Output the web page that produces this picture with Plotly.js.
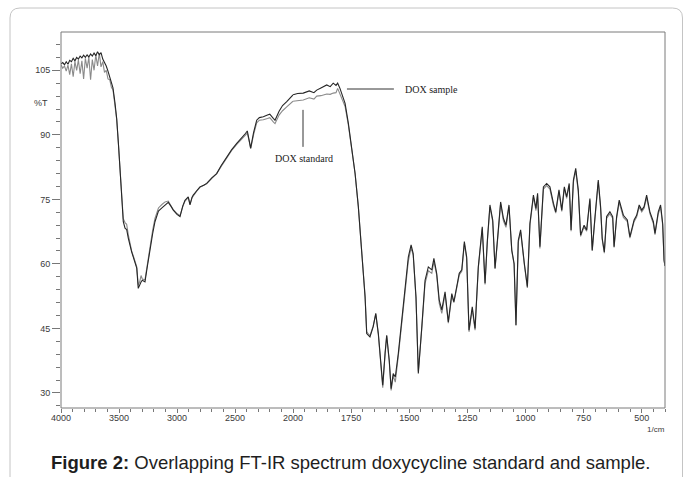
<!DOCTYPE html>
<html>
<head>
<meta charset="utf-8">
<script src="https://cdn.plot.ly/plotly-3.0.1.min.js"></script>
<style>
  html, body { margin: 0; padding: 0; background: #ffffff; }
  #chart { width: 683px; height: 477px; }
</style>
</head>
<body>
<div id="chart"></div>
<script>
// Wavenumbers (1/cm), descending
const wavenumbers = [
  4000, 3985, 3970, 3955, 3940, 3925, 3910, 3895, 3880, 3865, 3850, 3835, 3820, 3805, 3790, 3775, 3760, 3745, 3730, 3715,
  3700, 3685, 3670, 3655, 3640, 3625, 3610, 3595, 3580, 3565, 3552, 3535, 3520, 3505, 3491, 3477, 3463, 3448, 3434, 3420,
  3405, 3391, 3370, 3347, 3334, 3320, 3310, 3299, 3276, 3255, 3233, 3210, 3190, 3160, 3130, 3103, 3075, 3050, 3032, 3000,
  2974, 2950, 2931, 2903, 2888, 2870, 2860, 2830, 2802, 2770, 2744, 2700, 2658, 2620, 2572, 2530, 2485, 2440, 2410, 2394,
  2380, 2365, 2340, 2313, 2290, 2256, 2220, 2200, 2170, 2155, 2120, 2090, 2054, 2020, 2000,
  1980, 1956, 1930, 1910, 1898, 1880, 1855, 1840, 1827, 1815, 1808, 1798, 1785, 1776, 1762, 1748, 1733, 1719, 1705, 1690,
  1683, 1669, 1655, 1644, 1633, 1619, 1614, 1604, 1597, 1586, 1578, 1569, 1560, 1547, 1526, 1504, 1492, 1483, 1471, 1461,
  1446, 1432, 1418, 1403, 1394, 1382, 1371, 1360, 1346, 1332, 1317, 1308, 1285, 1274, 1263, 1253, 1243, 1229, 1217, 1203,
  1186, 1174, 1164, 1153, 1141, 1131, 1117, 1107, 1095, 1084, 1071, 1059, 1049, 1041, 1031, 1021, 1005, 992, 981, 966,
  955, 948, 938, 923, 909, 895, 880, 870, 856, 844, 833, 823, 812, 804, 794, 784, 773, 763, 748, 737,
  723, 713, 701, 687, 677, 670, 661, 651, 637, 625, 619, 608, 597, 579, 562, 551, 533, 522, 511, 500,
  490, 479, 465, 450, 443, 429, 419, 410, 404, 400
];

// %T, DOX sample
const sampleT = [
  106.5, 106.8, 106.3, 107.0, 106.4, 107.3, 107.0, 107.8, 107.2, 108.0, 107.6, 108.3, 107.9, 108.5, 108.0, 108.6, 108.1, 108.8, 108.3, 109.0,
  108.4, 109.3, 108.6, 109.1, 107.6, 106.8, 106.0, 104.8, 103.5, 102.2, 100.9, 97.5, 93.8, 88.0, 82.3, 76.0, 69.8, 68.3, 68.0, 66.0,
  64.2, 62.8, 61.0, 59.0, 54.3, 55.5, 55.8, 56.2, 55.8, 59.5, 63.7, 67.0, 69.8, 72.3, 73.0, 73.7, 74.3, 73.3, 72.5, 71.5,
  71.0, 73.5, 74.8, 75.6, 73.7, 75.5, 76.0, 77.0, 77.9, 78.3, 78.7, 80.0, 81.0, 82.8, 84.9, 86.5, 88.0, 89.3, 90.3, 90.9,
  89.0, 86.9, 90.5, 93.4, 94.0, 94.2, 94.6, 94.8, 93.8, 93.4, 95.5, 96.8, 97.7, 98.8, 99.3,
  99.6, 99.7, 100.2, 99.8, 100.4, 100.9, 101.6, 101.2, 102.0, 101.5, 102.0, 100.8, 99.0, 97.3, 92.7, 86.5, 81.0, 73.3, 64.0, 52.3,
  43.8, 43.0, 45.4, 48.5, 43.8, 34.5, 31.8, 39.2, 43.4, 37.6, 31.0, 34.5, 33.7, 39.2, 50.0, 61.6, 64.4, 62.4, 52.3, 34.5,
  45.4, 56.2, 59.3, 58.6, 61.3, 57.8, 51.6, 49.3, 53.5, 46.5, 53.1, 51.2, 57.8, 58.6, 65.2, 61.6, 44.6, 50.0, 45.0, 59.3,
  68.6, 55.5, 65.5, 73.7, 70.2, 59.0, 67.9, 74.4, 70.6, 69.0, 73.7, 63.2, 60.1, 45.8, 65.5, 67.9, 60.1, 54.7, 69.4, 76.0,
  72.9, 76.4, 64.0, 77.9, 78.7, 77.9, 74.1, 72.1, 77.2, 72.5, 77.9, 75.6, 78.7, 67.9, 79.5, 82.2, 77.2, 66.7, 69.0, 67.9,
  75.2, 63.2, 71.0, 79.5, 73.3, 65.9, 62.8, 71.0, 72.1, 71.0, 64.0, 71.0, 74.8, 71.3, 70.2, 66.3, 70.2, 71.3, 73.7, 72.5,
  73.3, 76.0, 72.1, 69.8, 67.1, 72.1, 73.7, 69.4, 60.9, 59.5
];

// %T, DOX standard
const standardT = [
  106.3, 105.5, 106.0, 104.8, 106.2, 104.0, 106.5, 103.5, 107.0, 105.0, 107.4, 104.2, 107.2, 103.0, 107.8, 105.5, 108.0, 102.8, 107.5, 105.0,
  108.6, 106.0, 109.0, 105.8, 107.0, 104.5, 105.0, 103.0, 102.8, 101.0, 100.5, 97.2, 93.6, 87.8, 82.2, 76.2, 70.5, 69.6, 69.2, 66.8,
  64.6, 63.0, 61.3, 59.3, 55.0, 56.0, 57.3, 56.5, 56.3, 60.0, 64.3, 67.8, 70.6, 73.0, 73.8, 74.4, 74.6, 73.6, 72.6, 71.7,
  71.2, 73.3, 74.6, 75.4, 73.9, 75.4, 75.8, 76.9, 77.8, 78.2, 78.6, 79.9, 81.0, 82.6, 84.7, 86.3, 87.8, 89.0, 89.9, 90.4,
  88.8, 86.8, 90.0, 92.8, 93.4, 93.5, 93.8, 94.0, 93.0, 92.6, 94.6, 95.6, 96.5, 97.3, 97.8,
  98.0, 98.1, 98.6, 98.3, 99.0, 99.1, 99.5, 99.4, 99.7, 99.8, 100.8, 99.5, 98.2, 96.6, 92.3, 86.3, 81.0, 73.3, 64.2, 52.6,
  44.2, 43.3, 45.6, 48.3, 43.6, 34.0, 31.2, 39.0, 43.2, 37.2, 30.6, 34.0, 32.5, 38.6, 49.6, 60.6, 63.8, 62.0, 52.0, 35.0,
  45.0, 55.5, 58.4, 57.8, 60.6, 57.4, 50.8, 48.5, 53.0, 46.2, 52.5, 51.0, 57.4, 58.3, 64.6, 61.2, 44.2, 49.4, 44.6, 59.0,
  68.2, 55.2, 65.2, 73.2, 69.8, 58.8, 67.5, 74.0, 70.0, 68.5, 73.3, 63.0, 59.8, 45.6, 65.0, 67.4, 59.8, 54.4, 69.0, 75.5,
  72.4, 76.0, 63.6, 77.4, 78.2, 77.4, 73.6, 71.8, 76.8, 72.2, 77.5, 75.2, 78.2, 67.6, 79.0, 81.6, 76.8, 66.4, 68.6, 67.6,
  74.8, 63.0, 70.6, 79.0, 72.9, 65.6, 62.5, 70.6, 71.6, 70.6, 63.8, 70.6, 74.3, 70.8, 69.8, 66.0, 69.8, 70.9, 73.2, 72.1,
  72.9, 75.4, 71.7, 69.3, 66.8, 71.6, 73.2, 69.0, 60.7, 59.5
];

const seriesNames = ['DOX standard', 'DOX sample'];
const yTickLabels = ['30', '45', '60', '75', '90', '105'];
const xTicksHigh = [4000, 3500, 3000, 2500, 2000];
const xTicksLow = [1750, 1500, 1250, 1000, 750, 500];
const captionText = '<b>Figure 2:</b> Overlapping FT-IR spectrum doxycycline standard and sample.';

// Split at 2000 1/cm where the instrument's x scale changes
function pick(vals, cond) {
  const xs = [], ys = [];
  wavenumbers.forEach((w, i) => { if (cond(w)) { xs.push(w); ys.push(vals[i]); } });
  return { xs, ys };
}
const hi = w => w >= 2000;
const lo = w => w <= 2000;

const colStd = '#8a8a8a';
const colSmp = '#262626';

const traces = [];
[[standardT, colStd, seriesNames[0]], [sampleT, colSmp, seriesNames[1]]].forEach(([vals, col, name]) => {
  const a = pick(vals, hi), b = pick(vals, lo);
  traces.push({ x: a.xs, y: a.ys, xaxis: 'x', yaxis: 'y', type: 'scatter', mode: 'lines', name: name,
    line: { color: col, width: 1.1 }, hoverinfo: 'skip' });
  traces.push({ x: b.xs, y: b.ys, xaxis: 'x2', yaxis: 'y', type: 'scatter', mode: 'lines', name: name,
    line: { color: col, width: 1.1 }, hoverinfo: 'skip' });
});

// pixel geometry
const L = 61, R = 18, T = 32, B = 69;
const W = 683, H = 477;
const pw = W - L - R, ph = H - T - B;
const split = 232 / pw;
const px = x => (x - L) / pw;
const py = y => (H - B - y) / ph;

const tickFont = { family: 'Liberation Sans, Arial, sans-serif', size: 9, color: '#3a3a3a' };
const serif = { family: 'Liberation Serif, Times New Roman, serif', size: 10, color: '#222' };

// rounded outer border (top-left, top-right corners)
const bx0 = px(10), bx1 = px(682.5), byt = py(8), byb = py(495);
const rx = 10 / pw, ry = 10 / ph;
const borderPath = `M ${bx0},${byb} L ${bx0},${byt - ry} Q ${bx0},${byt} ${bx0 + rx},${byt} ` +
  `L ${bx1 - rx},${byt} Q ${bx1},${byt} ${bx1},${byt - ry} L ${bx1},${byb}`;

const layout = {
  width: W, height: H,
  margin: { l: L, r: R, t: T, b: B },
  paper_bgcolor: '#ffffff', plot_bgcolor: '#ffffff',
  showlegend: false,
  font: tickFont,
  xaxis: {
    domain: [0, split], range: [4000, 2000], anchor: 'y',
    tickmode: 'array', tickvals: xTicksHigh, ticktext: xTicksHigh.map(String),
    ticks: 'outside', ticklen: 4, tickwidth: 1, tickcolor: '#777', ticklabelstandoff: -3,
    minor: { tickmode: 'linear', tick0: 0, dtick: 100, ticks: 'outside', ticklen: 3, tickcolor: '#777' },
    showgrid: false, zeroline: false, showline: false, tickfont: tickFont
  },
  xaxis2: {
    domain: [split, 1], range: [2000, 400], anchor: 'y',
    tickmode: 'array', tickvals: xTicksLow, ticktext: xTicksLow.map(String),
    ticks: 'outside', ticklen: 4, tickwidth: 1, tickcolor: '#777', ticklabelstandoff: -3,
    minor: { tickmode: 'linear', tick0: 0, dtick: 50, ticks: 'outside', ticklen: 3, tickcolor: '#777' },
    showgrid: false, zeroline: false, showline: false, tickfont: tickFont
  },
  yaxis: {
    range: [26.5, 113.9], anchor: 'x',
    tickmode: 'array', tickvals: yTickLabels.map(Number), ticktext: yTickLabels,
    ticks: 'outside', ticklen: 8, tickwidth: 1, tickcolor: '#777',
    minor: { tickmode: 'linear', tick0: 0, dtick: 3, ticks: 'outside', ticklen: 4, tickcolor: '#777' },
    showgrid: false, zeroline: false, showline: false, tickfont: tickFont
  },
  shapes: [
    { type: 'rect', xref: 'paper', yref: 'paper', x0: 0, x1: 1, y0: 0, y1: 1,
      line: { color: '#7a7a7a', width: 1 }, fillcolor: 'rgba(0,0,0,0)' },
    { type: 'path', xref: 'paper', yref: 'paper', path: borderPath,
      line: { color: '#c4c4c4', width: 1 } },
    // DOX sample pointer
    { type: 'line', xref: 'x2', yref: 'y', x0: 1768, x1: 1566, y0: 100.65, y1: 100.65,
      line: { color: '#333', width: 1 } },
    // DOX standard pointer
    { type: 'line', xref: 'x2', yref: 'y', x0: 1957, x1: 1957, y0: 95.8, y1: 87.2,
      line: { color: '#333', width: 1 } }
  ],
  annotations: [
    { xref: 'x2', yref: 'y', x: 1527, y: 100.65, xanchor: 'left', yanchor: 'middle',
      text: seriesNames[1], showarrow: false, font: serif },
    { xref: 'x2', yref: 'y', x: 1953, y: 84.6, xanchor: 'center', yanchor: 'middle',
      text: seriesNames[0], showarrow: false, font: serif },
    { xref: 'paper', yref: 'y', x: px(41), y: 97.5, xanchor: 'center', yanchor: 'middle',
      text: '%T', showarrow: false, font: tickFont },
    { xref: 'paper', yref: 'paper', x: px(656), y: py(429), xanchor: 'center', yanchor: 'middle',
      text: '1/cm', showarrow: false, font: { family: tickFont.family, size: 8, color: '#3a3a3a' } },
    { xref: 'paper', yref: 'paper', x: px(350), y: py(462), xanchor: 'center', yanchor: 'middle',
      text: captionText, showarrow: false,
      font: { family: 'Liberation Sans, Arial, sans-serif', size: 18.5, color: '#1e1e1e' } }
  ]
};

Plotly.newPlot('chart', traces, layout, { staticPlot: true, displayModeBar: false });
</script>
</body>
</html>
